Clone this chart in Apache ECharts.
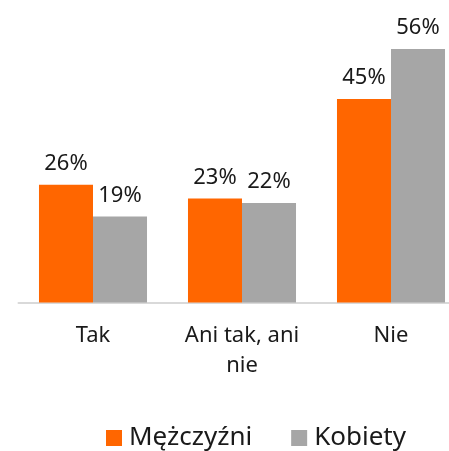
<!DOCTYPE html>
<html>
<head>
<meta charset="utf-8">
<script src="https://cdn.jsdelivr.net/npm/echarts@6/dist/echarts.min.js"></script>
<style>
  html, body { margin: 0; padding: 0; background: #fff; }
  #main { width: 449px; height: 451px; }
</style>
</head>
<body>
<div id="main"></div>
<script>
var categories = ['Tak', 'Ani tak, ani\nnie', 'Nie'];
var menValues = [26, 23, 45];
var womenValues = [19, 22, 56];
var seriesNames = ['Mężczyźni', 'Kobiety'];

var chart = echarts.init(document.getElementById('main'));

var labelStyle = {
  show: true,
  position: 'top',
  distance: 10,
  formatter: '{c}%',
  color: '#1a1a1a',
  fontFamily: 'Noto Sans',
  fontSize: 22
};

var option = {
  animation: false,
  grid: { left: 18.5, width: 447, top: 31, bottom: 148.5, containLabel: false, outerBoundsMode: 'none' },
  legend: {
    data: seriesNames,
    left: 101,
    top: 420,
    itemWidth: 16,
    itemHeight: 16,
    itemGap: 39,
    icon: 'rect',
    textStyle: { fontFamily: 'Noto Sans', fontSize: 26, color: '#1a1a1a', padding: [0, 0, 0, 2] }
  },
  xAxis: {
    type: 'category',
    data: categories,
    axisTick: { show: false },
    axisLine: { lineStyle: { color: '#d9d9d9', width: 2 } },
    axisLabel: {
      margin: 18,
      fontFamily: 'Noto Sans',
      fontSize: 22,
      lineHeight: 30,
      color: '#1a1a1a',
      interval: 0
    }
  },
  yAxis: {
    type: 'value',
    min: 0,
    max: 60,
    show: false,
    splitLine: { show: false }
  },
  series: [
    {
      name: seriesNames[0],
      type: 'bar',
      data: menValues,
      barGap: '0%',
      barCategoryGap: '27.5%',
      itemStyle: { color: '#ff6600' },
      label: labelStyle
    },
    {
      name: seriesNames[1],
      type: 'bar',
      data: womenValues,
      itemStyle: { color: '#a6a6a6' },
      label: labelStyle
    }
  ]
};

chart.setOption(option);
</script>
</body>
</html>
